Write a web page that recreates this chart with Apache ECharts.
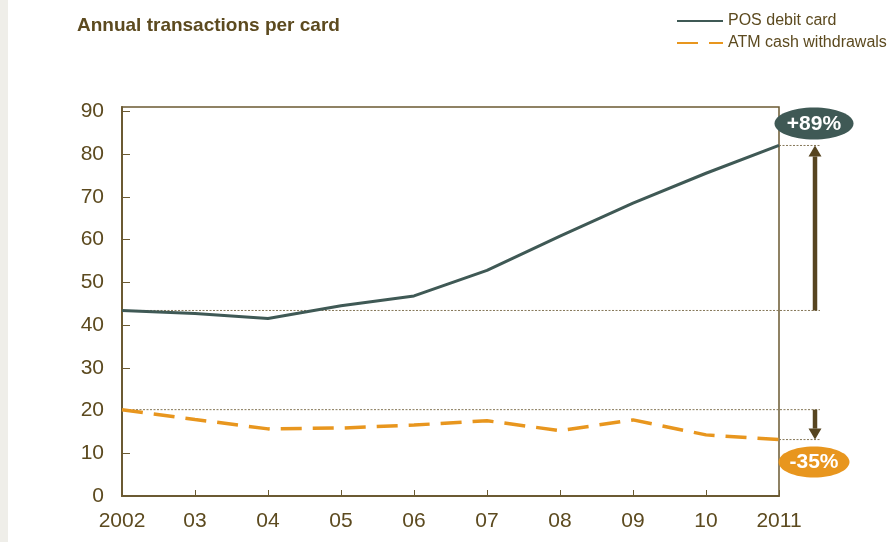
<!DOCTYPE html>
<html>
<head>
<meta charset="utf-8">
<script src="https://cdn.jsdelivr.net/npm/echarts@6/dist/echarts.min.js"></script>
<style>
html,body{margin:0;padding:0;background:#ffffff;}
#chart{width:894px;height:542px;}
</style>
</head>
<body>
<div id="chart"></div>
<script>
const years = ['2002', '03', '04', '05', '06', '07', '08', '09', '10', '2011'];
const posDebit = [43.4, 42.7, 41.5, 44.5, 46.8, 52.8, 60.8, 68.5, 75.5, 82.0];
const atmCash = [20.2, 17.9, 15.7, 15.9, 16.6, 17.6, 15.3, 17.8, 14.3, 13.2];
const yTicks = [0, 10, 20, 30, 40, 50, 60, 70, 80, 90];
const seriesNames = ['POS debit card', 'ATM cash withdrawals'];
const changeLabels = ['+89%', '-35%'];
const titleText = 'Annual transactions per card';

const FONT = 'Liberation Sans, Arial, Helvetica, sans-serif';
const BROWN = '#5c4a1f';
const AXIS = '#6b5a32';
const POS_COLOR = '#3f5955';
const ATM_COLOR = '#e8961e';
const DOT = '#857758';

const chart = echarts.init(document.getElementById('chart'), null, {renderer: 'canvas'});

const option = {
  animation: false,
  backgroundColor: '#ffffff',
  title: {
    text: titleText,
    left: 77, top: 16, padding: 0,
    textStyle: {fontFamily: FONT, fontSize: 19, fontWeight: 'bold', color: BROWN}
  },
  legend: {
    orient: 'vertical',
    left: 676, top: 13, padding: 0,
    itemWidth: 46, itemHeight: 14, itemGap: 6,
    data: seriesNames,
    itemStyle: {opacity: 0},
    textStyle: {fontFamily: FONT, fontSize: 16, color: BROWN, padding: [0, 0, 0, 0]}
  },
  grid: {
    left: 122, right: 115, top: 107, bottom: 46,
    show: true, borderColor: AXIS, borderWidth: 1.5, backgroundColor: 'transparent'
  },
  xAxis: {
    type: 'category',
    data: years,
    boundaryGap: false,
    axisLine: {lineStyle: {color: AXIS, width: 2}},
    axisTick: {inside: true, length: 6, lineStyle: {color: AXIS, width: 1}},
    axisLabel: {fontFamily: FONT, fontSize: 21, color: BROWN, margin: 15},
    splitLine: {show: false}
  },
  yAxis: {
    type: 'value',
    min: 0, max: 91, interval: 10,
    axisLine: {show: true, lineStyle: {color: AXIS, width: 2}},
    axisTick: {show: true, inside: true, length: 8, customValues: yTicks, lineStyle: {color: AXIS, width: 1}},
    axisLabel: {fontFamily: FONT, fontSize: 21, color: BROWN, margin: 18, customValues: yTicks},
    splitLine: {show: false}
  },
  series: [
    {
      name: seriesNames[0], type: 'line', data: posDebit,
      symbol: 'none', z: 5,
      lineStyle: {color: POS_COLOR, width: 3},
      itemStyle: {color: POS_COLOR}
    },
    {
      name: seriesNames[1], type: 'line', data: atmCash,
      symbol: 'none', z: 5,
      lineStyle: {color: ATM_COLOR, width: 3.5, type: [21, 11]},
      itemStyle: {color: ATM_COLOR}
    }
  ]
};
chart.setOption(option);

function buildAnnotations() {
  const els = [];
  els.push({type: 'rect', shape: {x: 0, y: 0, width: 8, height: 542}, style: {fill: '#efeee9'}, z: 0});
  const specs = [
    {data: posDebit, color: POS_COLOR, label: changeLabels[0], up: true, rx: 39.5, ry: 16},
    {data: atmCash, color: ATM_COLOR, label: changeLabels[1], up: false, rx: 35.5, ry: 15.5}
  ];
  specs.forEach(s => {
    const last = s.data.length - 1;
    const p0 = chart.convertToPixel({xAxisIndex: 0, yAxisIndex: 0}, [0, s.data[0]]);
    const p1 = chart.convertToPixel({xAxisIndex: 0, yAxisIndex: 0}, [last, s.data[last]]);
    const ext = p1[0] + 41;
    const ax = p1[0] + 36;
    els.push({type: 'line', z: 1, shape: {x1: p0[0], y1: p0[1], x2: ext, y2: p0[1]},
      style: {stroke: DOT, lineWidth: 1, lineDash: [2, 1.5]}});
    els.push({type: 'line', z: 1, shape: {x1: p1[0], y1: p1[1], x2: ext, y2: p1[1]},
      style: {stroke: DOT, lineWidth: 1, lineDash: [2, 1.5]}});
    const yFrom = p0[1], yTo = p1[1];
    const dir = yTo < yFrom ? -1 : 1;
    const headLen = 11;
    const yHeadBase = yTo - dir * headLen;
    els.push({type: 'line', z: 3, shape: {x1: ax, y1: yFrom, x2: ax, y2: yHeadBase},
      style: {stroke: '#574520', lineWidth: 4.5}});
    els.push({type: 'polygon', z: 3, shape: {points: [[ax - 6.5, yHeadBase], [ax + 6.5, yHeadBase], [ax, yTo]]},
      style: {fill: '#574520'}});
    const cy = s.up ? yTo - 22 : yTo + 22.5;
    els.push({type: 'ellipse', z: 4, shape: {cx: ax - 1, cy: cy, rx: s.rx, ry: s.ry},
      style: {fill: s.color}});
    els.push({type: 'text', z: 5, x: ax - 1, y: cy + 0.5,
      style: {text: s.label, fill: '#ffffff', font: 'bold 21px ' + FONT, align: 'center', verticalAlign: 'middle'}});
  });
  return els;
}
chart.setOption({graphic: {elements: buildAnnotations()}});
</script>
</body>
</html>
